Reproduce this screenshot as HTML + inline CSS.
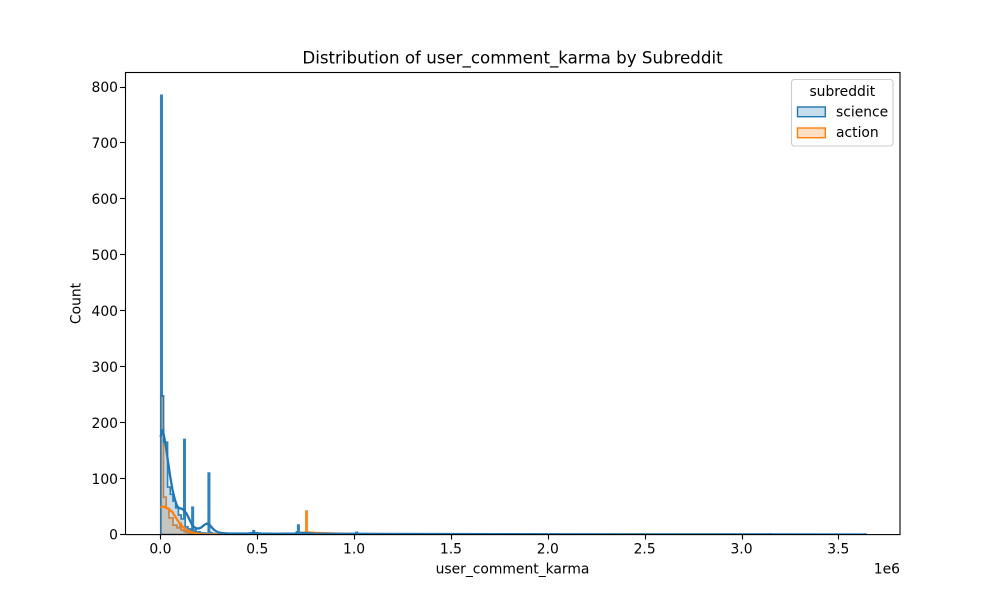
<!DOCTYPE html>
<html>
<head>
<meta charset="utf-8">
<title>Distribution of user_comment_karma by Subreddit</title>
<style>
html,body{margin:0;padding:0;background:#fff;}
svg{display:block;}
text{font-family:"DejaVu Sans","Liberation Sans",sans-serif;fill:#000;}
</style>
</head>
<body>
<svg id="chart" width="1000" height="600" viewBox="0 0 1000 600" xmlns="http://www.w3.org/2000/svg">
  <rect x="0" y="0" width="1000" height="600" fill="#fff"/>
  <text x="512.5" y="63.5" font-size="16.67" text-anchor="middle">Distribution of user_comment_karma by Subreddit</text>
  <g id="marks"></g>
  <g id="axes"></g>
  <text x="512.5" y="573.5" font-size="13.89" text-anchor="middle">user_comment_karma</text>
  <text x="900" y="573.5" font-size="13.89" text-anchor="end">1e6</text>
  <text transform="translate(80.5,303.5) rotate(-90)" font-size="13.89" text-anchor="middle">Count</text>
  <g>
    <rect x="791.5" y="79.5" width="101.5" height="66.5" rx="3" fill="#fff" fill-opacity="0.8" stroke="#ccc" stroke-width="1.1"/>
    <text x="842.3" y="96" font-size="13.89" text-anchor="middle">subreddit</text>
    <rect x="797.5" y="107" width="27.8" height="9.7" fill="#1f77b4" fill-opacity="0.25" stroke="#1f77b4" stroke-width="1.4"/>
    <text x="836" y="116.5" font-size="13.89">science</text>
    <rect x="797.5" y="128" width="27.8" height="9.7" fill="#ff7f0e" fill-opacity="0.25" stroke="#ff7f0e" stroke-width="1.4"/>
    <text x="836" y="137" font-size="13.89">action</text>
  </g>
</svg>
<script>
// Histogram data: counts per bin
var binStart = 2000;
var binWidth = 7000;
var binCount = 520;
var scienceCounts = [785,248,165,165,165,85,85,72,72,60,60,48,48,35,35,28,28,170,14,14,10,10,8,49,6,8,5,4,5,3,3,2,3,2,2,110,4,3,2,2,1,1,2,1,1];
var actionCounts = [248,248,67,67,47,47,30,30,30,17,17,17,12,12,20,8,8,6,5,4,5,3,3,2,2,2,1,1,1,1];
var scienceTail = [[50,1],[57,2],[62,1],[68,7],[69,1],[73,2],[78,1],[85,1],[95,1],[98,2],[100,5],[101,17],[102,2],[104,1],[144,4],[170,1],[220,1],[449,1],[519,1]];
var actionTail = [[44,1],[55,1],[65,1],[107,42],[108,2],[109,2],[111,1],[114,1],[118,1],[122,1],[126,1],[155,1],[164,1],[449,1]];

// KDE curves: karma value and density-scaled count
var kdeKarma = [0,12500,25000,37500,50000,62500,75000,87500,100000,112500,125000,137500,150000,162500,175000,187500,200000,212500,225000,237500,250000,262500,275000,287500,300000,325000,350000,400000,450000,480000,520000,600000,700000,720000,760000,800000,1000000,2000000,3150000,3640000];
var kdeScience = [175,187,165,135,105,80,62,50,47,46,42,36,27,18,13,11,11,13,17,19.5,19,14,9,6,4,2.5,2,2,2,3,2,1.5,2,3,2.5,1.5,1.5,0.5,0.3,0.2];
var kdeAction = [49,50,49,47,44,40,33,26,20,15,11,8,5.5,4,3,2,1.2,0.7,0.4,0.3,0.2,0.2,0.2,0.2,0.2,0.3,0.3,0.4,0.5,0.5,0.5,1,2,3,4,3,0.8,0.3,0.2,null];

var xTicks = [0,500000,1000000,1500000,2000000,2500000,3000000,3500000];
var xTickLabels = ["0.0","0.5","1.0","1.5","2.0","2.5","3.0","3.5"];
var yTicks = [0,100,200,300,400,500,600,700,800];
var yTickLabels = ["0","100","200","300","400","500","600","700","800"];

var SVGNS = 'http://www.w3.org/2000/svg';
var plot = {left:125, right:900, top:72, bottom:534.6};
function xScale(v){ return 160.4 + v * (96.85 / 500000); }
function yScale(v){ return 534.6 - v * (447.6 / 800); }
function edge(i){ return xScale(binStart + i * binWidth); }

function expand(head, tail, length){
  var out = head.slice();
  while(out.length < length){ out.push(0); }
  tail.forEach(function(t){ out[t[0]] = t[1]; });
  return out;
}
function stepPath(counts){
  var d = 'M' + edge(0).toFixed(2) + ' ' + yScale(0).toFixed(2);
  for(var i = 0; i < counts.length; i++){
    var y = yScale(counts[i]).toFixed(2);
    d += 'L' + edge(i).toFixed(2) + ' ' + y;
    d += 'L' + edge(i + 1).toFixed(2) + ' ' + y;
  }
  d += 'L' + edge(counts.length).toFixed(2) + ' ' + yScale(0).toFixed(2) + 'Z';
  return d;
}
function kdePath(values){
  var d = '';
  for(var i = 0; i < values.length; i++){
    if(values[i] === null){ continue; }
    d += (d ? 'L' : 'M') + xScale(kdeKarma[i]).toFixed(2) + ' ' + yScale(values[i]).toFixed(2);
  }
  return d;
}
var marks = document.getElementById('marks');
var axes = document.getElementById('axes');

var clip = document.createElementNS(SVGNS, 'clipPath');
clip.setAttribute('id', 'plot-clip');
var clipRect = document.createElementNS(SVGNS, 'rect');
clipRect.setAttribute('x', plot.left);
clipRect.setAttribute('y', plot.top);
clipRect.setAttribute('width', plot.right - plot.left);
clipRect.setAttribute('height', plot.bottom - plot.top);
clip.appendChild(clipRect);
marks.appendChild(clip);
marks.setAttribute('clip-path', 'url(#plot-clip)');

var actionFull = expand(actionCounts, actionTail, 450);
var scienceFull = expand(scienceCounts, scienceTail, binCount);

// action is layered beneath science
var actionArea = document.createElementNS(SVGNS, 'path');


actionArea.setAttribute('d', stepPath(actionFull));
actionArea.setAttribute('fill', '#ff7f0e');
actionArea.setAttribute('fill-opacity', '0.25');
actionArea.setAttribute('stroke', '#ff7f0e');
actionArea.setAttribute('stroke-opacity', '0.9');
actionArea.setAttribute('stroke-width', '1.7');
actionArea.setAttribute('stroke-linejoin', 'miter');
marks.appendChild(actionArea);

var scienceArea = document.createElementNS(SVGNS, 'path');


scienceArea.setAttribute('d', stepPath(scienceFull));
scienceArea.setAttribute('fill', '#1f77b4');
scienceArea.setAttribute('fill-opacity', '0.25');
scienceArea.setAttribute('stroke', '#1f77b4');
scienceArea.setAttribute('stroke-opacity', '0.9');
scienceArea.setAttribute('stroke-width', '1.7');
scienceArea.setAttribute('stroke-linejoin', 'miter');
marks.appendChild(scienceArea);

var actionKde = document.createElementNS(SVGNS, 'path');


actionKde.setAttribute('d', kdePath(kdeAction));
actionKde.setAttribute('fill', 'none');
actionKde.setAttribute('stroke', '#ff7f0e');
actionKde.setAttribute('stroke-width', '2.3');
actionKde.setAttribute('stroke-linejoin', 'round');
marks.appendChild(actionKde);

var scienceKde = document.createElementNS(SVGNS, 'path');


scienceKde.setAttribute('d', kdePath(kdeScience));
scienceKde.setAttribute('fill', 'none');
scienceKde.setAttribute('stroke', '#1f77b4');
scienceKde.setAttribute('stroke-width', '2.3');
scienceKde.setAttribute('stroke-linejoin', 'round');
marks.appendChild(scienceKde);

xTicks.forEach(function(v, i){
  var x = Math.round(xScale(v)) + 0.5;
  var t = document.createElementNS(SVGNS, 'line');
  
  
  t.setAttribute('x1', x);
  t.setAttribute('x2', x);
  t.setAttribute('y1', plot.bottom);
  t.setAttribute('y2', plot.bottom + 4.9);
  t.setAttribute('stroke', '#000');
  t.setAttribute('stroke-width', '1.1');
  axes.appendChild(t);
  var l = document.createElementNS(SVGNS, 'text');
  
  
  l.setAttribute('x', xScale(v));
  l.setAttribute('y', 553.5);
  l.setAttribute('font-size', '13.89');
  l.setAttribute('text-anchor', 'middle');
  l.textContent = xTickLabels[i];
  axes.appendChild(l);
});
yTicks.forEach(function(v, i){
  var y = Math.round(yScale(v) - 0.5) + 0.5;
  var t = document.createElementNS(SVGNS, 'line');
  
  
  t.setAttribute('x1', plot.left - 4.9);
  t.setAttribute('x2', plot.left);
  t.setAttribute('y1', y);
  t.setAttribute('y2', y);
  t.setAttribute('stroke', '#000');
  t.setAttribute('stroke-width', '1.1');
  axes.appendChild(t);
  var l = document.createElementNS(SVGNS, 'text');
  
  
  l.setAttribute('x', 118);
  l.setAttribute('y', yScale(v) + 5.1);
  l.setAttribute('font-size', '13.89');
  l.setAttribute('text-anchor', 'end');
  l.textContent = yTickLabels[i];
  axes.appendChild(l);
});
var frame = document.createElementNS(SVGNS, 'rect');


frame.setAttribute('x', plot.left + 0.5);
frame.setAttribute('y', plot.top + 0.5);
frame.setAttribute('width', plot.right - plot.left - 0.5);
frame.setAttribute('height', plot.bottom - plot.top - 0.5);
frame.setAttribute('fill', 'none');
frame.setAttribute('stroke', '#000');
frame.setAttribute('stroke-width', '1.1');
axes.appendChild(frame);
</script>
</body>
</html>
